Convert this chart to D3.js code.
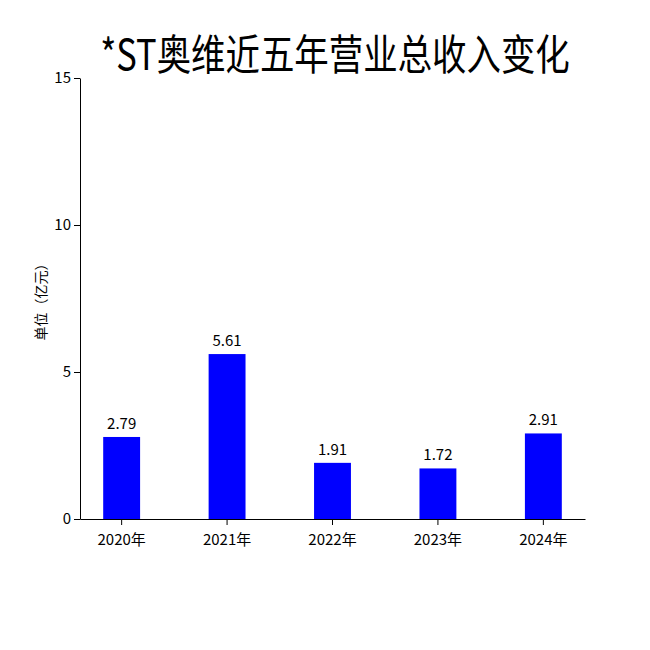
<!DOCTYPE html>
<html><head><meta charset="utf-8">
<script src="https://cdn.jsdelivr.net/npm/d3@7"></script>
<style>body{margin:0;background:#fff}text{font-family:"Noto Sans CJK SC","Noto Sans",sans-serif}</style>
</head><body><div id="chart"></div>
<script>
var years = ["2020年", "2021年", "2022年", "2023年", "2024年"];
var revenue = [2.79, 5.61, 1.91, 1.72, 2.91];
var yTicks = [0, 5, 10, 15];

var w = 650, h = 650;
var m = { left: 80, right: 65, top: 78, bottom: 131 };
var svg = d3.select("#chart").append("svg").attr("width", w).attr("height", h);

var x = d3.scaleBand().domain(years).range([m.left, w - m.right]).paddingInner(0.65).paddingOuter(0.22);
var y = d3.scaleLinear().domain([0, 15]).range([h - m.bottom, m.top]);

svg.append("g")
  .attr("transform", "translate(0," + (h - m.bottom) + ")")
  .call(d3.axisBottom(x).tickSizeOuter(0))
  .call(function (g) { g.selectAll("text").attr("font-size", 15).attr("dy", "1.1em"); });

svg.append("g")
  .attr("transform", "translate(" + m.left + ",0)")
  .call(d3.axisLeft(y).tickValues(yTicks).tickSizeOuter(0))
  .call(function (g) { g.selectAll("text").attr("font-size", 15); });

svg.selectAll(".bar").data(revenue).enter().append("rect")
  .attr("x", function (d, i) { return x(years[i]); })
  .attr("y", function (d) { return y(d); })
  .attr("width", x.bandwidth())
  .attr("height", function (d) { return y(0) - y(d); })
  .style("fill", "#0000ff");

svg.selectAll(".lbl").data(revenue).enter().append("text")
  .attr("x", function (d, i) { return x(years[i]) + x.bandwidth() / 2; })
  .attr("y", function (d) { return y(d) - 8; })
  .attr("text-anchor", "middle")
  .attr("font-size", 15)
  .text(function (d) { return d.toFixed(2); });

svg.append("text")
  .attr("transform", "translate(46," + y(7.5) + ") rotate(-90)")
  .attr("text-anchor", "middle").attr("font-size", 14)
  .text("单位（亿元）");

svg.append("text")
  .attr("transform", "translate(335,70) scale(0.82,1)")
  .attr("text-anchor", "middle").attr("font-size", 42)
  .text("*ST奥维近五年营业总收入变化");
</script></body></html>
